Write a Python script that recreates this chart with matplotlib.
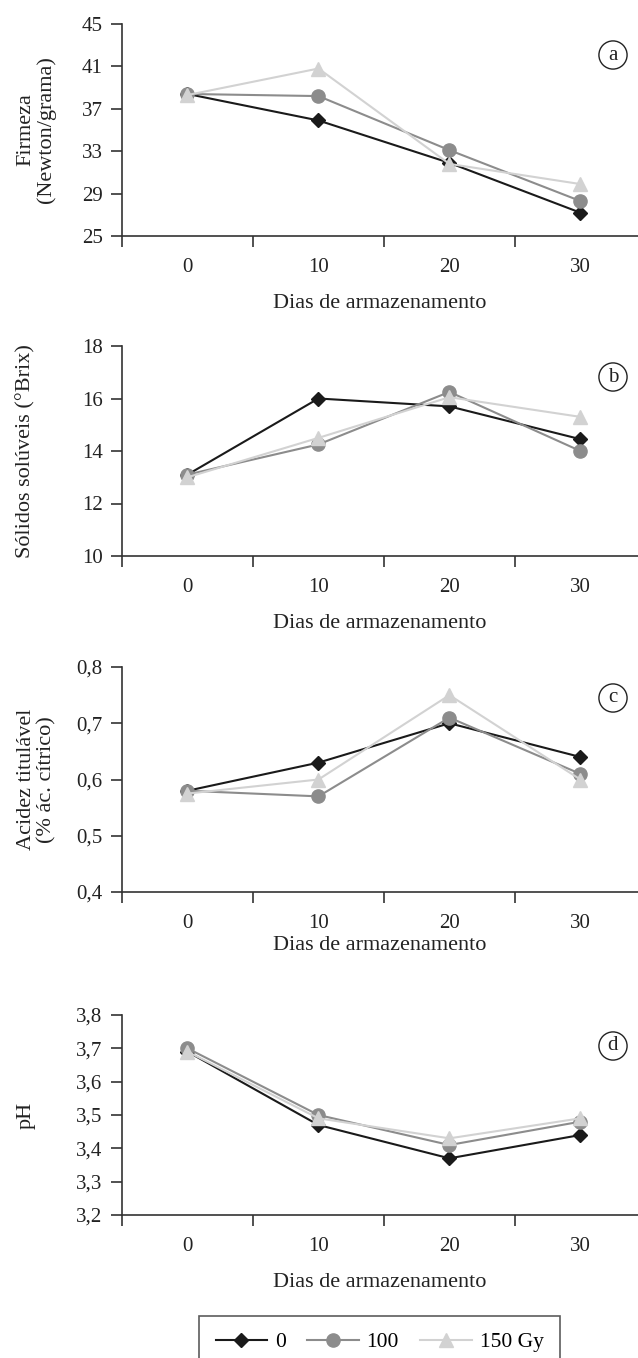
import matplotlib
matplotlib.use("Agg")
import matplotlib.pyplot as plt
from matplotlib.lines import Line2D

plt.rcParams['font.family'] = ['Liberation Serif', 'DejaVu Serif']

# storage days (categories)
dias = ["0", "10", "20", "30"]
xpos = [0, 1, 2, 3]

# doses
doses = ["0", "100", "150 Gy"]

# (a) firmness
firm_0 = [38.4, 35.9, 31.9, 27.2]
firm_100 = [38.4, 38.2, 33.1, 28.3]
firm_150 = [38.3, 40.8, 31.8, 29.9]

# (b) soluble solids
ss_0 = [13.1, 16.0, 15.7, 14.45]
ss_100 = [13.1, 14.25, 16.25, 14.0]
ss_150 = [13.0, 14.5, 16.05, 15.3]

# (c) titratable acidity
at_0 = [0.58, 0.63, 0.70, 0.64]
at_100 = [0.58, 0.57, 0.71, 0.61]
at_150 = [0.575, 0.60, 0.75, 0.60]

# (d) pH
ph_0 = [3.69, 3.47, 3.37, 3.44]
ph_100 = [3.70, 3.50, 3.41, 3.48]
ph_150 = [3.69, 3.49, 3.43, 3.49]

# y ticks
yt_a = [25, 29, 33, 37, 41, 45]
yt_b = [10, 12, 14, 16, 18]
yt_c = [0.4, 0.5, 0.6, 0.7, 0.8]
yt_d = [3.2, 3.3, 3.4, 3.5, 3.6, 3.7, 3.8]

colors = ["#1a1a1a", "#8c8c8c", "#d2d2d2"]
markers = ["D", "o", "^"]
msizes = [7.5, 9.5, 10]
axis_col = "#333333"
txt_col = "#222222"

W, H = 638, 1358
fig = plt.figure(figsize=(W / 100, H / 100), dpi=100)


def make_axes(top_px, bot_px):
    left = 122 / W
    return fig.add_axes([left, 1 - bot_px / H, 1 - left, (bot_px - top_px) / H])


# axes, data, yticks, ylabel, letter, formatter, xlabel offset (px), ylabel right edge (px)
panels = [
    (make_axes(24, 236), [firm_0, firm_100, firm_150], yt_a, "Firmeza\n(Newton/grama)", "a",
     lambda v: "%d" % v, 58, 56),
    (make_axes(346, 556), [ss_0, ss_100, ss_150], yt_b, "Sólidos solúveis (°Brix)", "b",
     lambda v: "%d" % v, 58, 35),
    (make_axes(667, 892), [at_0, at_100, at_150], yt_c, "Acidez titulável\n(% ác. cítrico)", "c",
     lambda v: ("%.1f" % v).replace(".", ","), 44, 56),
    (make_axes(1015, 1215), [ph_0, ph_100, ph_150], yt_d, "pH", "d",
     lambda v: ("%.1f" % v).replace(".", ","), 58, 36),
]

for ax, series, yt, ylab, letter, fmt, xlab_off, ylab_x in panels:
    for vals, c, m, ms in zip(series, colors, markers, msizes):
        ax.plot(xpos, vals, color=c, marker=m, markersize=ms, linewidth=1.5,
                markeredgecolor=c, clip_on=False)
    ax.set_xlim(-0.5, 3.44)
    ax.set_ylim(yt[0], yt[-1])
    ax.set_yticks(yt)
    ax.set_yticklabels([fmt(v) for v in yt])
    ax.set_xticks(xpos)
    ax.set_xticklabels(dias)
    ax.set_xticks([-0.5, 0.5, 1.5, 2.5], minor=True)
    ax.tick_params(axis='x', which='major', length=0, pad=16, labelsize=15, colors=txt_col)
    ax.tick_params(axis='x', which='minor', length=8, width=1.2, color=axis_col, direction='out')
    ax.tick_params(axis='y', length=8, width=1.2, color=axis_col, pad=6, labelsize=15, labelcolor=txt_col)
    for s in ["top", "right"]:
        ax.spines[s].set_visible(False)
    for s in ["left", "bottom"]:
        ax.spines[s].set_color(axis_col)
        ax.spines[s].set_linewidth(1.2)
    w_px = ax.get_position().width * W
    h_px = ax.get_position().height * H
    ax.set_ylabel(ylab, fontsize=16, color=txt_col, linespacing=1.05)
    ax.yaxis.set_label_coords((ylab_x - 122) / w_px, 0.5)
    ax.set_xlabel("Dias de armazenamento", fontsize=16, color=txt_col)
    ax.xaxis.set_label_coords((379.5 - 122) / w_px, -xlab_off / h_px)
    ax.text((613 - 122) / w_px, 1 - 31 / h_px, letter, transform=ax.transAxes,
            ha='center', va='center', fontsize=15, color=txt_col,
            bbox=dict(boxstyle="circle,pad=0.22", fc="white", ec=txt_col, lw=1.0))

handles = [Line2D([], [], color=c, marker=m, markersize=ms, linewidth=1.5, markeredgecolor=c)
           for c, m, ms in zip(colors, markers, msizes)]
leg = fig.legend(handles, doses, loc='upper center', bbox_to_anchor=(379.5 / W, 1 - 1316 / H),
                 ncol=3, frameon=True, fancybox=False, fontsize=15.5, handlelength=2.4,
                 columnspacing=1.0, handletextpad=0.35, borderpad=0.75, borderaxespad=0)
leg.get_frame().set_edgecolor("#333333")
leg.get_frame().set_linewidth(1.2)

fig.savefig("out.png", dpi=100)
